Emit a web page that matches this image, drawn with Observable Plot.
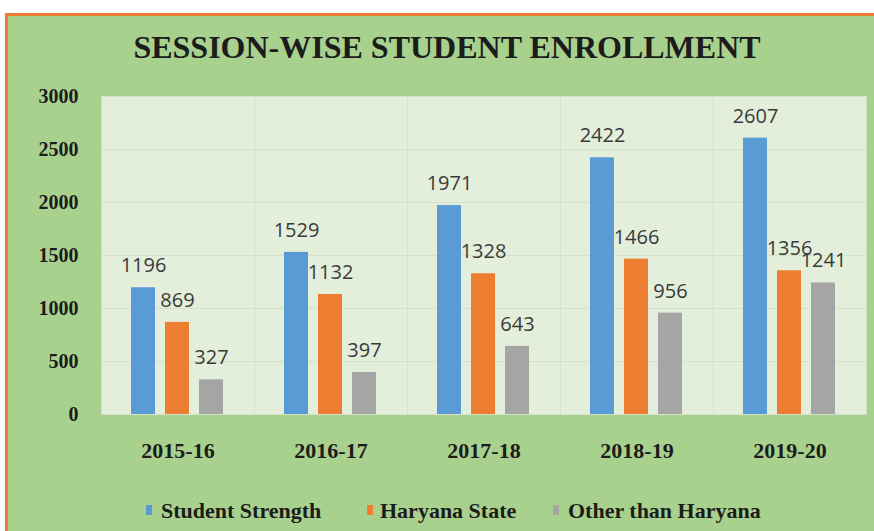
<!DOCTYPE html>
<html>
<head>
<meta charset="utf-8">
<script src="https://cdn.jsdelivr.net/npm/d3@7"></script>
<script src="https://cdn.jsdelivr.net/npm/@observablehq/plot@0.6"></script>
<style>
  html, body { margin: 0; padding: 0; background: #ffffff; width: 874px; height: 531px; overflow: hidden; }
  #card {
    position: absolute; left: 5px; top: 13px; width: 869px; height: 518px;
    border-top: 3px solid #ed7d31; border-left: 3px solid #ed7d31;
    background: #a9d18e; overflow: hidden;
  }
  #title {
    position: absolute; left: 0; top: 15px; width: 878px; text-align: center;
    font-family: "Liberation Serif", serif; font-weight: bold; font-size: 32px; line-height: 32px;
    color: #1c1c1c; white-space: nowrap;
  }
  #chart { position: absolute; left: 0; top: 64px; }
  #chart svg { background: transparent; overflow: visible; }
  #chart g[aria-label="y-axis tick label"] {
    font-family: "Liberation Serif", serif; font-weight: bold; font-size: 20px; fill: #1c1c1c;
  }
  #chart g[aria-label="fx-axis tick label"] {
    font-family: "Liberation Serif", serif; font-weight: bold; font-size: 22px; fill: #1c1c1c;
  }
  .lg-sw { position: absolute; width: 6px; height: 10px; top: 489px; }
  .lg-tx {
    position: absolute; top: 484px; line-height: 22px;
    font-family: "Liberation Serif", serif; font-weight: bold; font-size: 22px; color: #1c1c1c; white-space: nowrap;
  }
</style>
</head>
<body>
<div id="card">
  <div id="title">SESSION-WISE STUDENT ENROLLMENT</div>
  <div id="chart"></div>
</div>
<script>
const sessions = ["2015-16", "2016-17", "2017-18", "2018-19", "2019-20"];
const studentStrength = [1196, 1529, 1971, 2422, 2607];
const haryanaState = [869, 1132, 1328, 1466, 1356];
const otherThanHaryana = [327, 397, 643, 956, 1241];
const seriesNames = ["Student Strength", "Haryana State", "Other than Haryana"];
const seriesColors = ["#5b9bd5", "#ed7d31", "#a5a5a5"];
const yTicks = [0, 500, 1000, 1500, 2000, 2500, 3000];

const seriesValues = [studentStrength, haryanaState, otherThanHaryana];
const data = [];
sessions.forEach((s, i) => {
  seriesNames.forEach((n, j) => data.push({session: s, series: n, value: seriesValues[j][i]}));
});

const chart = Plot.plot({
  width: 866,
  height: 400,
  marginTop: 16,
  marginBottom: 66,
  marginLeft: 92,
  marginRight: 8,
  style: {background: "transparent"},
  fx: {domain: sessions, padding: 0, label: null},
  x: {domain: seriesNames, paddingInner: 0.294, paddingOuter: 0.897, axis: null},
  y: {domain: [0, 3000], axis: null},
  color: {domain: seriesNames, range: seriesColors},
  marks: [
    Plot.frame({fill: "#e3efda", stroke: "#d3e2c8", strokeWidth: 1}),
    Plot.ruleY(yTicks, {stroke: "#d3e2c8", strokeWidth: 1}),
    Plot.barY(data, {fx: "session", x: "series", y: "value", fill: "series"}),
    Plot.text(data, {fx: "session", x: "series", y: "value", text: d => String(d.value), dy: -22,
      fill: "#3a3a3a", fontSize: 20, fontFamily: "Open Sans, sans-serif"}),
    Plot.axisY({ticks: yTicks, tickSize: 0, tickPadding: 23, tickFormat: d => String(d), label: null}),
    Plot.axisFx({anchor: "bottom", tickSize: 0, tickPadding: 28, label: null})
  ]
});
document.getElementById("chart").appendChild(chart);

// legend: swatch and label left edges (card content coordinates)
const legendSwatchX = [138, 359, 545];
const legendTextX = [153, 372, 560];
const card = document.getElementById("card");
seriesNames.forEach((n, j) => {
  const sw = document.createElement("div");
  sw.className = "lg-sw";
  sw.style.left = legendSwatchX[j] + "px";
  sw.style.background = seriesColors[j];
  const t = document.createElement("div");
  t.className = "lg-tx";
  t.style.left = legendTextX[j] + "px";
  t.textContent = n;
  card.appendChild(sw); card.appendChild(t);
});
</script>
</body>
</html>
